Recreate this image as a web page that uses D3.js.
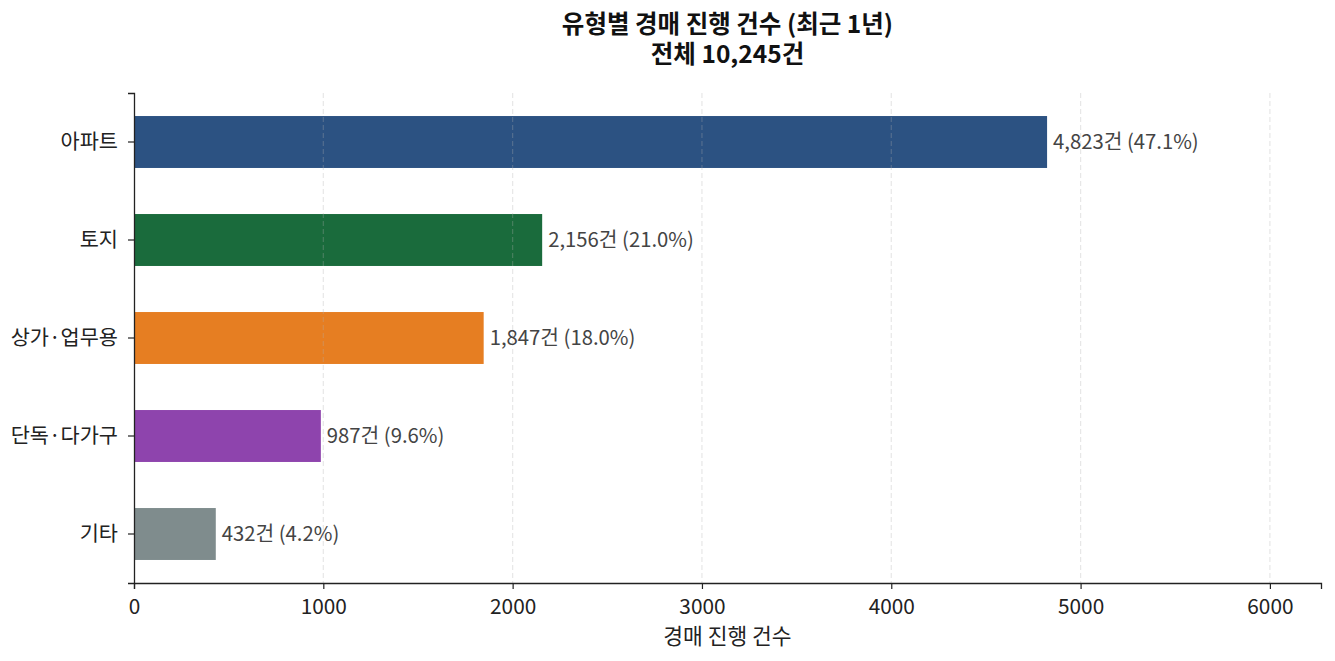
<!DOCTYPE html>
<html><head><meta charset="utf-8">
<script src="https://cdn.jsdelivr.net/npm/d3@7"></script>
<style>body{margin:0;background:#fff;} text{font-family:"Noto Sans CJK KR","Noto Sans",sans-serif;}</style>
</head><body>
<svg id="chart" width="1335" height="661"></svg>
<script>
const categories = ["아파트", "토지", "상가·업무용", "단독·다가구", "기타"];
const counts = [4823, 2156, 1847, 987, 432];
const colors = ["#2c5282", "#1a6b3c", "#e67e22", "#8e44ad", "#7f8c8d"];
const xTicks = [0, 1000, 2000, 3000, 4000, 5000, 6000];
const titleLines = ["유형별 경매 진행 건수 (최근 1년)", "전체 10,245건"];
const xLabel = "경매 진행 건수";

(function () {
const total = d3.sum(counts);
const data = categories.map((c, i) => ({cat: c, v: counts[i], color: colors[i]}));
const FONT = '"Noto Sans CJK KR","Noto Sans",sans-serif';

const svg = d3.select("#chart");
const mLeft = 134, mRight = 1321, mTop = 93, mBottom = 583;

const x = d3.scaleLinear().domain([0, d3.max(counts) * 1.3]).range([mLeft, mRight]);
const y = d3.scaleBand().domain(categories).range([mTop, mBottom]).paddingInner(0.47).paddingOuter(0.235);

// bars
svg.append("g").selectAll("rect").data(data).join("rect")
  .attr("x", x(0)).attr("y", d => y(d.cat))
  .attr("width", d => x(d.v) - x(0)).attr("height", y.bandwidth())
  .attr("fill", d => d.color);

// grid
svg.append("g").selectAll("line").data(xTicks.filter(t => t > 0)).join("line")
  .attr("x1", d => x(d)).attr("x2", d => x(d)).attr("y1", mTop).attr("y2", mBottom)
  .attr("stroke", "#b0b0b0").attr("stroke-opacity", 0.3).attr("stroke-width", 1.2)
  .attr("stroke-dasharray", "5,3");

// value labels
svg.append("g").selectAll("text").data(data).join("text")
  .attr("x", d => x(d.v) + 6).attr("y", d => y(d.cat) + y.bandwidth() / 2)
  .attr("dy", "0.36em").attr("font-size", 20.3).attr("fill", "#444")
  .text(d => `${d3.format(",")(d.v)}건 (${(d.v / total * 100).toFixed(1)}%)`);

// x axis
const xAxis = svg.append("g").attr("transform", `translate(0,${mBottom})`)
  .call(d3.axisBottom(x).tickValues(xTicks).tickFormat(d3.format("d")).tickSizeOuter(0).tickSize(6).tickPadding(10));
xAxis.select(".domain").attr("stroke", "#222").attr("stroke-width", 1.3);
xAxis.selectAll(".tick line").attr("stroke", "#222").attr("stroke-width", 1.2);
xAxis.selectAll(".tick text").attr("font-size", 20.8).attr("fill", "#222").style("font-family", FONT);

// y axis
const yAxis = svg.append("g").attr("transform", `translate(${mLeft},0)`)
  .call(d3.axisLeft(y).tickSizeOuter(0).tickSize(6).tickPadding(10));
yAxis.select(".domain").attr("stroke", "#222").attr("stroke-width", 1.3);
yAxis.selectAll(".tick line").attr("stroke", "#222").attr("stroke-width", 1.2);
yAxis.selectAll(".tick text").attr("font-size", 20.8).attr("fill", "#222").style("font-family", FONT);

// x label
svg.append("text").attr("x", (mLeft + mRight) / 2).attr("y", 644)
  .attr("text-anchor", "middle").attr("font-size", 21.5).attr("fill", "#222").text(xLabel);

// title
const t = svg.append("text").attr("text-anchor", "middle").attr("font-weight", "bold")
  .attr("font-size", 24.5).attr("fill", "#111");
titleLines.forEach((l, i) => t.append("tspan").attr("x", (mLeft + mRight) / 2).attr("y", 33 + i * 30).text(l));
})();
</script>
</body></html>
